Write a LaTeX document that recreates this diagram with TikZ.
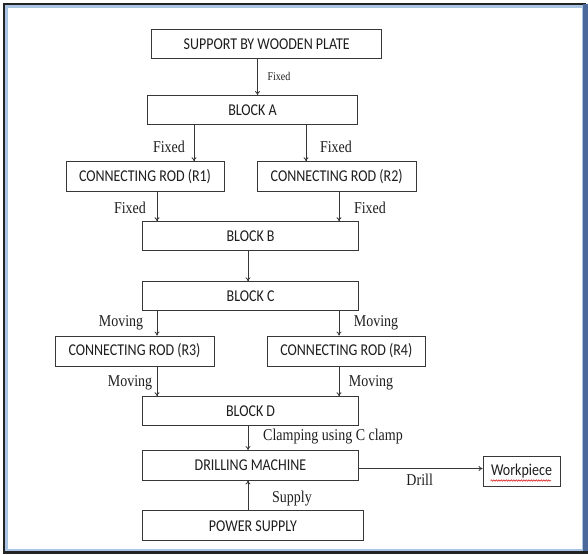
\documentclass[tikz,border=0pt]{standalone}
\usepackage{fontspec}
\setmainfont{Liberation Serif}
\setsansfont{Carlito}
\usetikzlibrary{arrows.meta,decorations.pathmorphing}
\definecolor{ln}{RGB}{55,55,55}
\definecolor{tx}{RGB}{30,30,30}
\definecolor{fdark}{RGB}{35,35,35}
\definecolor{fblue}{RGB}{170,196,228}
\definecolor{fsteel}{RGB}{75,105,155}
\newcommand{\vst}[1]{\scalebox{1}[1.18]{#1}}
\begin{document}
\begin{tikzpicture}[x=1pt,y=-1pt,
  box/.style={draw=ln, line width=0.8pt, fill=white, inner sep=0pt,
    font=\sffamily\fontsize{14}{16}\selectfont, text=tx},
  lbl/.style={font=\rmfamily\fontsize{14}{16}\selectfont, text=tx, inner sep=0pt},
  slbl/.style={font=\rmfamily\fontsize{10}{12}\selectfont, text=tx, inner sep=0pt},
  arr/.style={draw=ln, line width=0.8pt, -{To[length=4pt,width=5pt]}}]
% background and frame
\path[fill=white] (0,0) rectangle (588,554);
\useasboundingbox (0,0) rectangle (588,554);
\draw[fblue, line width=2.5pt] (6.3,6.3) rectangle (583,550);
\draw[fdark, line width=1.2pt] (4,4) rectangle (585,552);
\fill[fsteel] (583,4) rectangle (587.5,551);
\fill[fdark] (3.4,551) rectangle (588,554);

% boxes
\node[box, minimum width=230pt, minimum height=29pt] (sup) at (266.7,43.8) {\vst{SUPPORT BY WOODEN PLATE}};
\node[box, minimum width=210.4pt, minimum height=29pt] (A) at (252.5,110) {\vst{BLOCK A}};
\node[box, minimum width=158pt, minimum height=30pt] (r1) at (145,176.7) {\vst{CONNECTING ROD (R1)}};
\node[box, minimum width=158.7pt, minimum height=30pt] (r2) at (336.7,176.7) {\vst{CONNECTING ROD (R2)}};
\node[box, minimum width=215.8pt, minimum height=28.8pt] (B) at (250.6,236.1) {\vst{BLOCK B}};
\node[box, minimum width=215.8pt, minimum height=28.3pt] (C) at (250.6,295.9) {\vst{BLOCK C}};
\node[box, minimum width=159pt, minimum height=30pt] (r3) at (134.5,351) {\vst{CONNECTING ROD (R3)}};
\node[box, minimum width=158.6pt, minimum height=30pt] (r4) at (346.3,351) {\vst{CONNECTING ROD (R4)}};
\node[box, minimum width=215.8pt, minimum height=28.8pt] (D) at (250.6,411.1) {\vst{BLOCK D}};
\node[box, minimum width=215.6pt, minimum height=29.5pt] (dm) at (250.5,465.25) {\vst{DRILLING MACHINE}};
\node[box, minimum width=77pt, minimum height=30.7pt] (wp) at (521.5,471.3) {\vst{Workpiece}};
\node[box, minimum width=220.3pt, minimum height=30pt] (ps) at (252.9,525.7) {\vst{POWER SUPPLY}};

% x positions of connectors
\coordinate (xs) at (257.5,0);
\coordinate (xl) at (194,0);
\coordinate (xr) at (306,0);
\coordinate (xL) at (157,0);
\coordinate (xR) at (339,0);
\coordinate (xm) at (248,0);
\coordinate (yd) at (0,468.5);

% connectors
\draw[arr] (sup.south -| xs) -- (A.north -| xs);
\draw[arr] (A.south -| xl) -- (r1.north -| xl);
\draw[arr] (A.south -| xr) -- (r2.north -| xr);
\draw[arr] (r1.south -| xL) -- (B.north -| xL);
\draw[arr] (r2.south -| xR) -- (B.north -| xR);
\draw[arr] (B.south -| xm) -- (C.north -| xm);
\draw[arr] (C.south -| xL) -- (r3.north -| xL);
\draw[arr] (C.south -| xR) -- (r4.north -| xR);
\draw[arr] (r3.south -| xL) -- (D.north -| xL);
\draw[arr] (r4.south -| xR) -- (D.north -| xR);
\draw[arr] (D.south -| xm) -- (dm.north -| xm);
\draw[arr] (ps.north -| xm) -- (dm.south -| xm);
\draw[arr] (dm.east |- yd) -- (wp.west |- yd);

% labels
\node[slbl] (l0) at (279,76) {\vst{Fixed}};
\node[lbl] (l1) at (169,147) {\vst{Fixed}};
\node[lbl] (l2) at (336,147) {\vst{Fixed}};
\node[lbl] (l3) at (130,208) {\vst{Fixed}};
\node[lbl] (l4) at (370,208) {\vst{Fixed}};
\node[lbl] (l5) at (121,322.5) {\vst{Moving}};
\node[lbl] (l6) at (376,322.5) {\vst{Moving}};
\node[lbl] (l7) at (130,382.5) {\vst{Moving}};
\node[lbl] (l8) at (371,382.5) {\vst{Moving}};
\node[lbl] (l9) at (333,437) {\vst{Clamping using C clamp}};
\node[lbl] (l10) at (419.7,479.3) {\vst{Drill}};
\node[lbl] (l11) at (292,498.3) {\vst{Supply}};

% spell-check underline
\coordinate (u1) at (490.5,480.5);
\coordinate (u2) at (551,480.5);
\draw[red!85!black, line width=0.5pt, decorate,
  decoration={snake, amplitude=0.7pt, segment length=2.5pt}] (u1) -- (u2);
\end{tikzpicture}
\end{document}
